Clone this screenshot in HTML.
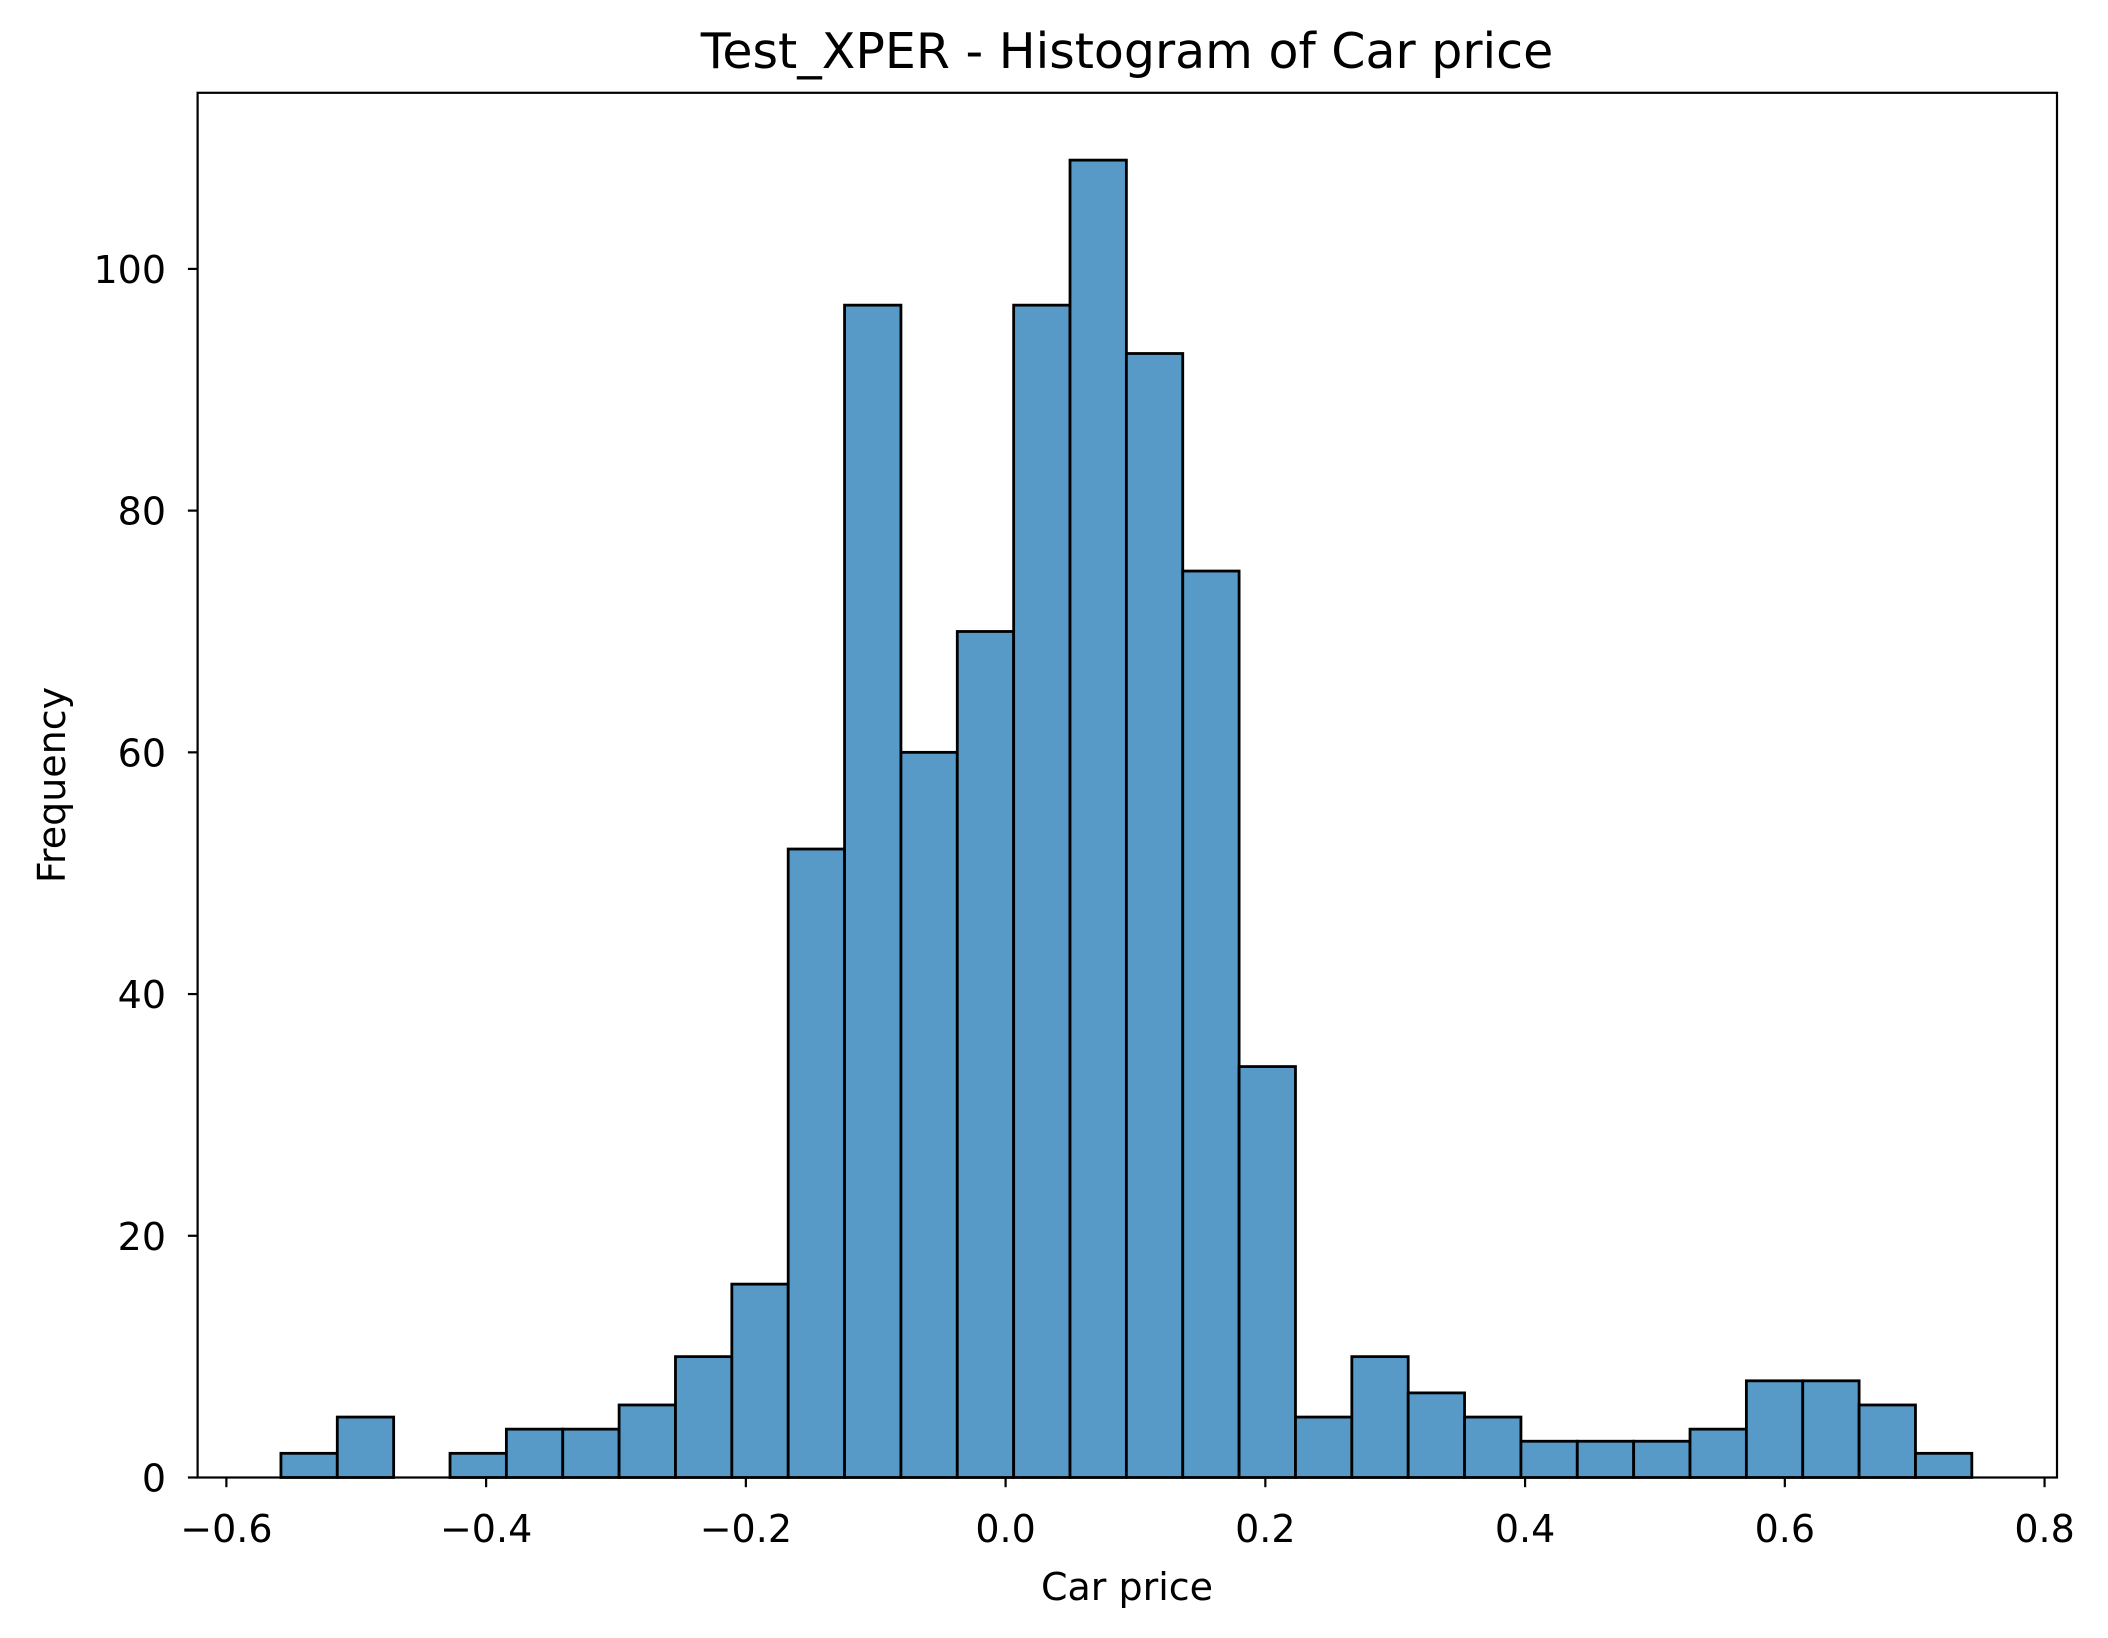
<!DOCTYPE html>
<html><head><meta charset="utf-8"><style>
html,body{margin:0;padding:0;background:#fff;}
svg{display:block;font-family:"DejaVu Sans","Liberation Sans",sans-serif;}
</style></head><body>
<svg id="chart" width="2108" height="1638" viewBox="0 0 2108 1638">
<text x="1127" y="68" font-size="49" text-anchor="middle">Test_XPER - Histogram of Car price</text>
<text x="1127" y="1600" font-size="38" text-anchor="middle">Car price</text>
<text x="0" y="0" font-size="38" text-anchor="middle" transform="translate(65,785) rotate(-90)">Frequency</text>
<g id="bars"></g>
<g id="xticks"></g>
<g id="yticks"></g>
<rect x="197.6" y="92.8" width="1859.4" height="1384.7" fill="none" stroke="#000" stroke-width="2.2"/>
</svg>
<script>
const counts = [2,5,0,2,4,4,6,10,16,52,97,60,70,97,109,93,75,34,5,10,7,5,3,3,3,4,8,8,6,2];
const binStart = -0.558;
const binEnd = 0.744;
const xTicks = [-0.6,-0.4,-0.2,0.0,0.2,0.4,0.6,0.8];
const xTickLabels = ["\u22120.6","\u22120.4","\u22120.2","0.0","0.2","0.4","0.6","0.8"];
const yTicks = [0,20,40,60,80,100];

const NS = "http://www.w3.org/2000/svg";
function xs(v){ return 1005.6 + v*1298.7; }
function ys(v){ return 1477.5 - v*12.086; }
const bw = (binEnd-binStart)/counts.length;
const bars = document.getElementById('bars');
counts.forEach((c,i)=>{
  const x0 = xs(binStart+i*bw), x1 = xs(binStart+(i+1)*bw);
  const r = document.createElementNS(NS,'rect');
  r.setAttribute('x',x0); r.setAttribute('width',x1-x0);
  r.setAttribute('y',ys(c)); r.setAttribute('height',ys(0)-ys(c));
  r.setAttribute('fill','#5799c7'); r.setAttribute('stroke','#000'); r.setAttribute('stroke-width','2.8');
  
  
  bars.appendChild(r);
});
const xt = document.getElementById('xticks');
xTicks.forEach((v,i)=>{
  const x = xs(v);
  const l = document.createElementNS(NS,'line');
  l.setAttribute('x1',x); l.setAttribute('x2',x); l.setAttribute('y1',1477.5); l.setAttribute('y2',1487.2);
  l.setAttribute('stroke','#000'); l.setAttribute('stroke-width','2.2');
  
  
  xt.appendChild(l);
  const t = document.createElementNS(NS,'text');
  t.setAttribute('x',x); t.setAttribute('y',1542); t.setAttribute('font-size','38'); t.setAttribute('text-anchor','middle');
  t.textContent = xTickLabels[i];
  
  
  xt.appendChild(t);
});
const yt = document.getElementById('yticks');
yTicks.forEach(v=>{
  const y = ys(v);
  const l = document.createElementNS(NS,'line');
  l.setAttribute('x1',187.9); l.setAttribute('x2',197.6); l.setAttribute('y1',y); l.setAttribute('y2',y);
  l.setAttribute('stroke','#000'); l.setAttribute('stroke-width','2.2');
  
  
  yt.appendChild(l);
  const t = document.createElementNS(NS,'text');
  t.setAttribute('x',166); t.setAttribute('y',y+14); t.setAttribute('font-size','38'); t.setAttribute('text-anchor','end');
  t.textContent = String(v);
  
  
  yt.appendChild(t);
});
</script>
</body></html>
